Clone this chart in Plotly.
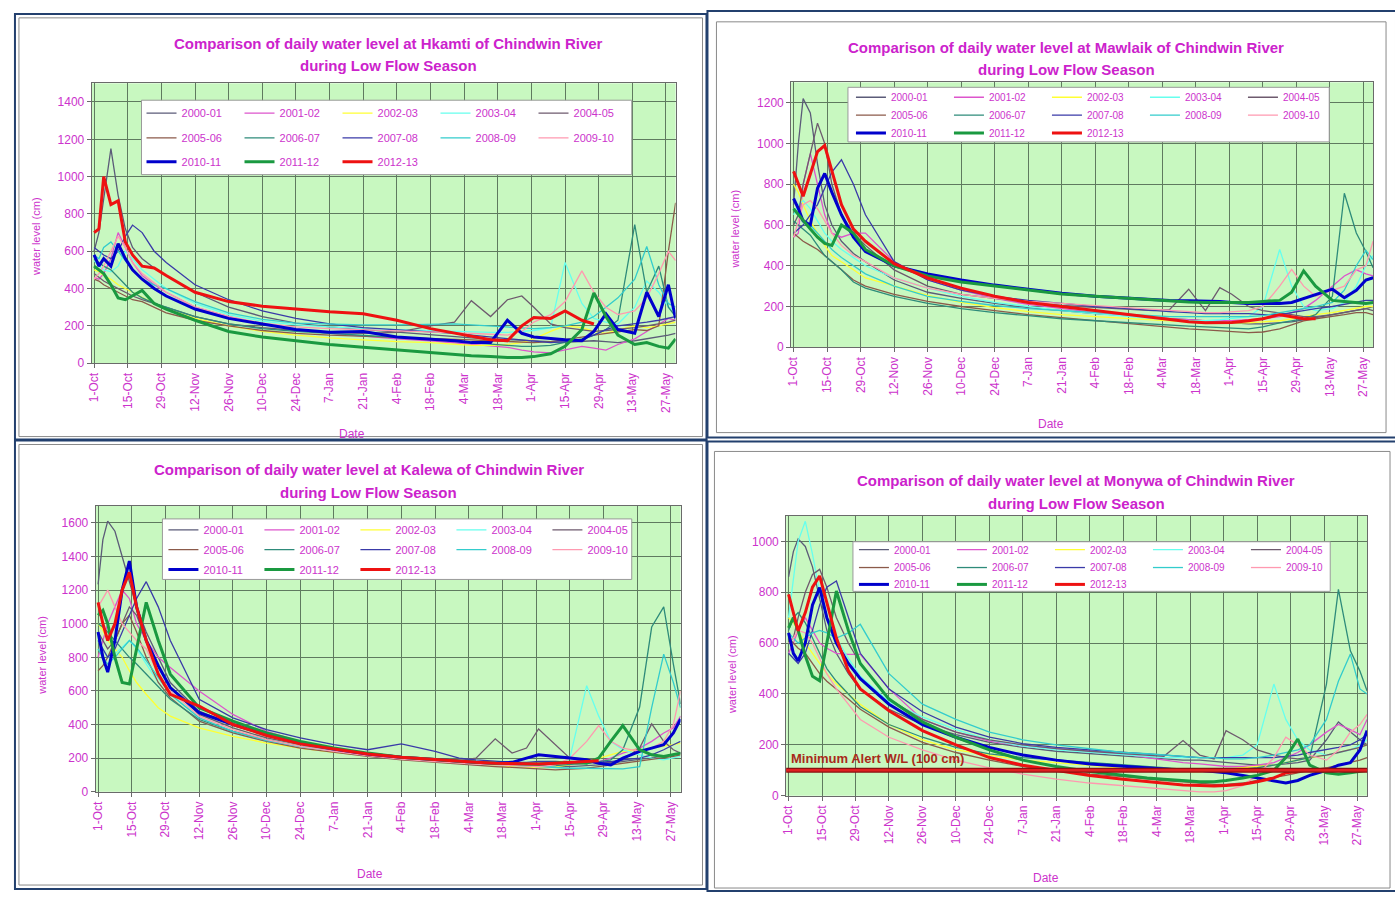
import plotly.graph_objects as go

W, H = 1395, 897
FONT = "Liberation Sans, Arial, sans-serif"
MAG = "#cc33cc"
TITLE_MAG = "#cc22cc"

# ---------------- data ----------------
# day index from 1-Oct (0) to 31-May (242)
DAYS = [0, 2, 4, 7, 10, 13, 16, 20, 25, 30, 42, 56, 70, 84, 98, 112, 126, 140, 150, 157,
        165, 172, 178, 183, 190, 196, 203, 208, 213, 218, 225, 230, 235, 239, 242]

TICK_DAYS = [0, 14, 28, 42, 56, 70, 84, 98, 112, 126, 140, 154, 168, 182, 196, 210, 224, 238]
TICK_LABELS = ["1-Oct", "15-Oct", "29-Oct", "12-Nov", "26-Nov", "10-Dec", "24-Dec", "7-Jan",
               "21-Jan", "4-Feb", "18-Feb", "4-Mar", "18-Mar", "1-Apr", "15-Apr", "29-Apr",
               "13-May", "27-May"]

SEASONS = ["2000-01", "2001-02", "2002-03", "2003-04", "2004-05",
           "2005-06", "2006-07", "2007-08", "2008-09", "2009-10",
           "2010-11", "2011-12", "2012-13"]

COLORS = ["#5b5b78", "#dd55cc", "#ffff33", "#66ffee", "#6e5a6e",
          "#8b5a4a", "#2e8b7a", "#3a3aa8", "#33cccc", "#ff99b0",
          "#0000cc", "#1a9940", "#ee1111"]
WIDTHS = [1.3, 1.3, 1.3, 1.3, 1.3, 1.3, 1.3, 1.3, 1.3, 1.3, 3, 3, 3]

N = None
HKAMTI = {
    "2000-01": [600, 700, 880, 1150, 900, 720, 620, 560, 510, 470, 380, 300, 250, 215, 195, 180, 165, 150, 140, 135, 130, 125, 120, 118, 115, 112, 115, 120, 115, 110, 120, 130, 140, 150, 160],
    "2001-02": [460, 450, 480, 560, 700, 620, 540, 470, 420, 380, 300, 250, 210, 180, 160, 145, 130, 120, 110, 100, 95, 85, 70, 60, 55, 70, 90, 80, 70, 100, 130, 170, 210, 240, 230],
    "2002-03": [500, 490, 470, 450, 420, 400, 380, 350, 320, 290, 240, 200, 170, 150, 135, 125, 115, 110, 100, 95, 95, 100, 110, 130, 170, 200, 190, 170, 160, 180, 200, 190, 200, 210, 220],
    "2003-04": [550, 520, 500, 490, 520, 600, 560, 500, 450, 400, 320, 260, 225, 205, 195, 185, 180, 175, 170, 165, 165, 165, 170, 175, 190, 540, 320, 240, 220, 210, 300, 440, 380, 300, 280],
    "2004-05": [480, 460, 440, 420, 400, 380, 360, 340, 320, 300, 250, 210, 190, 175, 165, 160, 165, 200, 220, 335, 250, 340, 360, 300, 210, 190, 180, 170, 175, 180, 190, 200, 210, 220, 230],
    "2005-06": [450, 440, 420, 400, 380, 360, 340, 330, 300, 270, 230, 200, 175, 160, 150, 145, 140, 135, 130, 125, 120, 115, 110, 110, 115, 125, 140, 150, 160, 170, 180, 175, 200, 600, 860],
    "2006-07": [560, 540, 520, 500, 460, 420, 380, 350, 320, 300, 250, 210, 185, 170, 160, 150, 140, 130, 120, 110, 100, 95, 90, 90, 95, 110, 130, 150, 180, 230, 742, 380, 520, 300, 250],
    "2007-08": [620, 600, 580, 560, 600, 680, 740, 700, 600, 540, 420, 340, 280, 240, 210, 190, 180, 170, 160, 150, 140, 130, 125, 120, 110, 115, 125, 150, 180, 200, 210, 220, 230, 240, 250],
    "2008-09": [580, 560, 620, 650, 600, 550, 500, 450, 420, 400, 330, 270, 235, 215, 210, 205, 205, 210, 210, 205, 200, 195, 190, 185, 190, 200, 220, 250, 300, 350, 450, 625, 420, 320, 300],
    "2009-10": [450, 480, 520, 600, 680, 620, 540, 480, 430, 380, 300, 250, 215, 195, 185, 180, 175, 170, 165, 160, 155, 150, 170, 220, 260, 330, 495, 380, 300, 260, 280, 350, 480, 600, 550],
    "2010-11": [580, 520, 560, 520, 640, 560, 500, 450, 400, 360, 290, 240, 210, 180, 165, 170, 140, 130, 120, 110, 110, 230, 160, 140, 130, 125, 120, 170, 265, 180, 160, 380, 250, 420, 240],
    "2011-12": [520, 500, 480, 420, 350, 340, 360, 390, 320, 290, 230, 170, 140, 120, 100, 85, 70, 55, 45, 40, 35, 30, 30, 35, 50, 90, 180, 376, 250, 150, 100, 110, 90, 80, 130],
    "2012-13": [700, 720, 1000, 850, 870, 650, 580, 520, 510, 470, 380, 330, 305, 290, 275, 265, 230, 185, 160, 145, 125, 120, 200, 245, 240, 280, 230, 210, N, N, N, N, N, N, N],
}

MAWLAIK = {
    "2000-01": [700, 1000, 1220, 1150, 900, 700, 600, 520, 460, 420, 330, 270, 240, 215, 195, 180, 165, 155, 145, 140, 135, 130, 125, 120, 115, 115, 120, 125, 135, 145, 160, 170, 180, 190, 200],
    "2001-02": [540, 560, 800, 950, 800, 650, 560, 540, 560, 560, 420, 330, 280, 240, 210, 190, 170, 155, 145, 140, 135, 130, 130, 130, 135, 140, 150, 170, 190, 230, 300, 350, 380, 360, 350],
    "2002-03": [800, 760, 700, 620, 560, 500, 450, 420, 380, 340, 300, 255, 220, 195, 175, 160, 150, 140, 135, 130, 125, 120, 120, 120, 120, 125, 130, 140, 150, 160, 170, 180, 190, 200, 200],
    "2003-04": [650, 700, 720, 680, 620, 560, 520, 480, 440, 400, 340, 290, 250, 220, 200, 180, 165, 150, 140, 135, 130, 130, 135, 140, 150, 200, 480, 300, 200, 180, 190, 220, 300, 400, 450],
    "2004-05": [600, 650, 800, 950, 1100, 1000, 800, 650, 560, 500, 380, 300, 260, 240, 220, 205, 195, 185, 180, 185, 285, 180, 293, 260, 200, 180, 170, 160, 150, 150, 160, 170, 180, 190, 180],
    "2005-06": [560, 540, 520, 500, 480, 450, 420, 380, 330, 300, 260, 225, 200, 180, 160, 145, 130, 115, 105, 95, 90, 85, 80, 75, 72, 75, 90, 110, 130, 140, 150, 160, 170, 170, 160],
    "2006-07": [620, 600, 580, 550, 500, 450, 420, 380, 320, 290, 250, 215, 190, 170, 155, 140, 130, 120, 112, 108, 104, 100, 96, 92, 90, 100, 120, 130, 140, 160, 250, 756, 561, 470, 390],
    "2007-08": [560, 580, 600, 650, 700, 780, 860, 920, 800, 650, 420, 330, 280, 250, 230, 215, 200, 190, 180, 175, 170, 165, 165, 165, 165, 160, 160, 170, 180, 190, 200, 210, 220, 230, 230],
    "2008-09": [680, 650, 620, 600, 560, 520, 480, 440, 400, 360, 300, 250, 225, 205, 190, 180, 170, 160, 155, 150, 150, 150, 150, 150, 150, 155, 170, 180, 190, 200, 220, 280, 400, 475, 430],
    "2009-10": [540, 620, 700, 720, 680, 620, 560, 500, 450, 420, 340, 290, 260, 240, 225, 215, 205, 195, 185, 180, 175, 170, 170, 175, 180, 200, 300, 382, 300, 250, 280, 300, 380, 400, 520],
    "2010-11": [730, 680, 620, 600, 780, 853, 760, 650, 540, 470, 400, 360, 330, 305, 285, 265, 250, 240, 235, 230, 228, 228, 225, 220, 215, 215, 215, 220, 240, 260, 285, 243, 280, 330, 341],
    "2011-12": [680, 650, 620, 580, 540, 510, 500, 600, 560, 480, 400, 350, 320, 300, 280, 262, 250, 240, 232, 228, 222, 220, 220, 220, 220, 225, 230, 270, 375, 300, 230, 225, 220, 215, 220],
    "2012-13": [863, 800, 741, 850, 960, 990, 870, 700, 580, 520, 410, 340, 290, 250, 220, 200, 180, 160, 145, 135, 125, 120, 120, 122, 130, 140, 160, 150, 140, 140, N, N, N, N, N],
}

KALEWA = {
    "2000-01": [1234, 1500, 1610, 1550, 1400, 1250, 1100, 950, 800, 650, 480, 400, 340, 290, 250, 225, 205, 190, 180, 175, 170, 165, 160, 155, 150, 150, 155, 160, 170, 180, 190, 200, 210, 220, 230],
    "2001-02": [800, 900, 1000, 1100, 1200, 1150, 1000, 900, 800, 740, 600, 460, 360, 300, 260, 230, 210, 185, 170, 160, 155, 150, 150, 150, 155, 160, 170, 180, 200, 230, 260, 300, 350, 380, 450],
    "2002-03": [1000, 960, 900, 850, 800, 720, 650, 580, 500, 450, 380, 330, 290, 260, 235, 215, 195, 180, 170, 160, 155, 150, 145, 145, 150, 160, 180, 200, 220, 240, 250, 260, 270, 280, 290],
    "2003-04": [900, 850, 800, 820, 860, 900, 850, 760, 650, 560, 420, 350, 300, 265, 240, 215, 195, 180, 170, 165, 160, 155, 150, 150, 155, 200, 631, 450, 300, 250, 220, 200, 190, 200, 210],
    "2004-05": [950, 900, 850, 900, 1000, 1100, 1050, 900, 750, 620, 460, 380, 320, 280, 250, 225, 205, 195, 185, 200, 315, 230, 260, 374, 280, 200, 180, 170, 175, 190, 260, 404, 300, 250, 230],
    "2005-06": [720, 750, 800, 900, 1000, 1050, 950, 800, 650, 560, 420, 350, 300, 260, 235, 210, 190, 175, 165, 155, 150, 145, 140, 135, 130, 135, 140, 150, 160, 170, 180, 190, 200, 210, 220],
    "2006-07": [1000, 980, 950, 900, 850, 800, 760, 700, 620, 550, 430, 360, 310, 270, 245, 220, 200, 185, 175, 170, 165, 160, 155, 155, 155, 160, 170, 180, 190, 250, 504, 980, 1100, 760, 522],
    "2007-08": [900, 850, 800, 850, 950, 1050, 1150, 1250, 1100, 900, 550, 440, 370, 320, 280, 250, 285, 240, 200, 190, 180, 175, 175, 180, 180, 175, 170, 175, 180, 190, 200, 220, 250, 280, 300],
    "2008-09": [850, 800, 760, 800, 850, 900, 860, 780, 680, 580, 440, 360, 305, 270, 245, 220, 200, 185, 175, 170, 165, 160, 155, 150, 145, 140, 140, 138, 136, 136, 150, 500, 819, 650, 500],
    "2009-10": [1100, 1150, 1200, 1100, 1000, 950, 900, 850, 700, 600, 450, 370, 310, 270, 240, 215, 195, 180, 170, 165, 160, 155, 150, 150, 160, 200, 300, 394, 300, 260, 240, 260, 300, 400, 600],
    "2010-11": [950, 800, 712, 900, 1200, 1373, 1100, 900, 750, 620, 470, 400, 340, 290, 255, 225, 205, 190, 180, 175, 170, 175, 200, 220, 210, 200, 190, 170, 160, 200, 240, 260, 280, 350, 433],
    "2011-12": [1050, 1080, 1000, 800, 650, 641, 850, 1127, 900, 700, 500, 420, 350, 300, 260, 230, 205, 190, 180, 175, 170, 165, 165, 165, 170, 175, 170, 200, 300, 394, 250, 220, 210, 220, 230],
    "2012-13": [1127, 1000, 900, 1000, 1200, 1305, 1100, 900, 700, 580, 510, 400, 335, 285, 255, 225, 205, 190, 180, 175, 170, 168, 165, 165, 170, 175, 180, 185, N, N, N, N, N, N, N],
}

MONYWA = {
    "2000-01": [860, 960, 1010, 980, 900, 780, 650, 560, 480, 420, 340, 280, 240, 210, 190, 175, 165, 155, 150, 145, 140, 140, 135, 130, 125, 120, 120, 125, 130, 140, 220, 290, 250, 220, 200],
    "2001-02": [560, 600, 650, 700, 650, 600, 580, 560, 556, 556, 420, 300, 250, 215, 195, 185, 175, 165, 150, 140, 130, 125, 120, 115, 115, 120, 130, 150, 170, 200, 250, 280, 260, 240, 300],
    "2002-03": [700, 680, 650, 600, 560, 520, 480, 440, 400, 360, 280, 220, 180, 160, 140, 130, 120, 110, 100, 95, 95, 95, 100, 105, 110, 115, 120, 130, 140, 150, 160, 170, 180, 190, 200],
    "2003-04": [700, 850, 1000, 1079, 950, 800, 700, 620, 540, 470, 370, 310, 260, 220, 195, 180, 170, 160, 155, 150, 150, 150, 150, 150, 160, 200, 439, 300, 220, 180, 160, 170, 180, 200, 220],
    "2004-05": [600, 620, 700, 800, 870, 890, 820, 700, 600, 520, 380, 300, 250, 220, 200, 185, 175, 165, 160, 155, 217, 160, 145, 256, 220, 180, 160, 150, 145, 150, 160, 170, 180, 190, 200],
    "2005-06": [620, 600, 580, 560, 520, 480, 450, 420, 380, 340, 270, 210, 170, 140, 115, 100, 85, 75, 65, 60, 55, 50, 45, 45, 50, 60, 70, 80, 90, 100, 110, 120, 130, 140, 150],
    "2006-07": [650, 700, 720, 680, 620, 560, 500, 450, 400, 350, 280, 230, 190, 165, 150, 140, 130, 120, 115, 110, 105, 100, 100, 100, 105, 110, 120, 130, 140, 150, 439, 811, 570, 490, 412],
    "2007-08": [560, 540, 520, 560, 650, 750, 820, 844, 700, 560, 420, 330, 270, 230, 205, 190, 180, 170, 165, 160, 155, 150, 150, 150, 150, 150, 150, 155, 160, 170, 180, 190, 200, 220, 240],
    "2008-09": [640, 620, 600, 620, 640, 650, 640, 620, 640, 674, 480, 360, 300, 250, 220, 200, 185, 170, 165, 160, 155, 150, 150, 145, 145, 150, 160, 170, 180, 200, 300, 450, 557, 420, 400],
    "2009-10": [600, 620, 650, 640, 600, 540, 480, 420, 360, 300, 230, 180, 140, 110, 85, 65, 50, 40, 30, 25, 20, 15, 15, 20, 40, 80, 150, 230, 200, 160, 140, 180, 250, 280, 320],
    "2010-11": [640, 560, 530, 600, 750, 818, 700, 600, 520, 460, 360, 280, 230, 190, 160, 140, 125, 115, 110, 105, 100, 100, 95, 90, 80, 70, 60, 50, 60, 80, 100, 120, 130, 180, 256],
    "2011-12": [660, 700, 650, 550, 470, 452, 600, 805, 650, 520, 380, 290, 230, 180, 140, 115, 95, 80, 70, 65, 60, 55, 55, 60, 70, 80, 100, 150, 223, 120, 90, 85, 90, 95, 100],
    "2012-13": [792, 720, 648, 720, 820, 864, 760, 620, 491, 420, 334, 256, 200, 150, 120, 100, 80, 65, 55, 48, 42, 40, 38, 40, 45, 55, 70, 90, 95, N, N, N, N, N, N],
}

ALERT_LEVEL = 100
X_RANGE = [-1, 242]


def px(x):
    return x / W


def py(y):
    return 1 - y / H


PANELS = [
    dict(station="Hkamti", data=HKAMTI, ymax=1500, plot=(87, 84, 673, 366),
         title=(385, 44, 66), ylab=(31, 238), date=(348, 437),
         box=(137, 101, 629, 176), rows=(114, 139, 163), lx=150, pitch=98, lfs=11),
    dict(station="Mawlaik", data=MAWLAIK, ymax=1300, plot=(789, 83, 1373, 350),
         title=(1065, 48, 70), ylab=(733, 231), date=(1050, 427),
         box=(846, 88, 1329, 143), rows=(98, 116, 134), lx=862, pitch=98, lfs=10),
    dict(station="Kalewa", data=KALEWA, ymax=1700, plot=(91, 510, 678, 798),
         title=(365, 473, 496), ylab=(37, 660), date=(366, 881),
         box=(158, 523, 629, 584), rows=(534, 554, 574), lx=172, pitch=96, lfs=11),
    dict(station="Monywa", data=MONYWA, ymax=1100, plot=(784, 520, 1367, 802),
         title=(1075, 484, 507), ylab=(729, 680), date=(1045, 885),
         box=(851, 546, 1330, 596), rows=(554, 572, 589), lx=865, pitch=98, lfs=10),
]

fig = go.Figure()
layout = dict(width=W, height=H, margin=dict(l=0, r=0, t=0, b=0),
              paper_bgcolor="white", plot_bgcolor="#c8f8c0", showlegend=True)
shapes = []
annotations = []

for i, p in enumerate(PANELS):
    sfx = "" if i == 0 else str(i + 1)
    xa, ya = "x" + sfx, "y" + sfx
    x0, y0, x1, y1 = p["plot"]
    layout["xaxis" + sfx] = dict(
        domain=[px(x0), px(x1)], anchor=ya, range=X_RANGE,
        tickmode="array", tickvals=TICK_DAYS, ticktext=TICK_LABELS, tickangle=-90,
        tickfont=dict(size=12, color=MAG, family=FONT),
        showgrid=True, gridcolor="#5f7a5f", gridwidth=1,
        showline=True, linecolor="#6a6a6a", linewidth=1, mirror=True,
        ticks="outside", ticklen=4, tickcolor="#6a6a6a", zeroline=False)
    layout["yaxis" + sfx] = dict(
        domain=[py(y1), py(y0)], anchor=xa, range=[0, p["ymax"]], dtick=200,
        tickfont=dict(size=12, color=MAG, family=FONT),
        showgrid=True, gridcolor="#5f7a5f", gridwidth=1,
        showline=True, linecolor="#6a6a6a", linewidth=1, mirror=True,
        ticks="outside", ticklen=4, tickcolor="#6a6a6a", zeroline=False)

    # series
    for s, season in enumerate(SEASONS):
        row = s // 5
        lid = 3 * i + row + 1
        lname = "legend" if lid == 1 else "legend%d" % lid
        fig.add_trace(go.Scatter(
            x=DAYS, y=p["data"][season], mode="lines", name=season,
            line=dict(color=COLORS[s], width=WIDTHS[s]),
            xaxis=xa, yaxis=ya, legend=lname, connectgaps=False))

    # legends (one per row)
    for r in range(3):
        lid = 3 * i + r + 1
        lname = "legend" if lid == 1 else "legend%d" % lid
        layout[lname] = dict(
            x=px(p["lx"] - 13), xanchor="left", y=py(p["rows"][r]), yanchor="middle",
            orientation="h", entrywidth=p["pitch"] - 45, entrywidthmode="pixels",
            bgcolor="rgba(0,0,0,0)", borderwidth=0, itemwidth=30, tracegroupgap=0,
            font=dict(size=p["lfs"], color=MAG, family=FONT), traceorder="normal")

    bx0, by0, bx1, by1 = p["box"]
    shapes.append(dict(type="rect", xref="paper", yref="paper", layer="above",
                       x0=px(bx0), x1=px(bx1), y0=py(by1), y1=py(by0),
                       fillcolor="white", line=dict(color="#9a9a9a", width=1)))

    tx, t1, t2 = p["title"]
    annotations.append(dict(xref="paper", yref="paper", x=px(tx), y=py(t1), showarrow=False,
                            text="<b>Comparison of daily water level at %s of Chindwin River</b>" % p["station"],
                            font=dict(size=15, color=TITLE_MAG, family=FONT), xanchor="center", yanchor="middle"))
    annotations.append(dict(xref="paper", yref="paper", x=px(tx), y=py(t2), showarrow=False,
                            text="<b>during Low Flow Season</b>",
                            font=dict(size=15, color=TITLE_MAG, family=FONT), xanchor="center", yanchor="middle"))
    yx, yy = p["ylab"]
    annotations.append(dict(xref="paper", yref="paper", x=px(yx), y=py(yy), showarrow=False,
                            text="water level (cm)", textangle=-90,
                            font=dict(size=11, color=MAG, family=FONT), xanchor="center", yanchor="middle"))
    dx, dy = p["date"]
    annotations.append(dict(xref="paper", yref="paper", x=px(dx), y=py(dy), showarrow=False,
                            text="Date", font=dict(size=12, color=MAG, family=FONT),
                            xanchor="center", yanchor="middle"))

# minimum alert level (Monywa)
shapes.append(dict(type="line", xref="x4 domain", yref="y4", x0=0, x1=1, y0=ALERT_LEVEL, y1=ALERT_LEVEL,
                   layer="above", line=dict(color="#8b1010", width=5)))
shapes.append(dict(type="line", xref="x4 domain", yref="y4", x0=0, x1=1, y0=ALERT_LEVEL, y1=ALERT_LEVEL,
                   layer="above", line=dict(color="#e02020", width=2.5)))
annotations.append(dict(xref="x4 domain", yref="y4", x=0.004, y=ALERT_LEVEL + 45, showarrow=False,
                        text="<b>Minimum Alert W/L (100 cm)</b>", xanchor="left", yanchor="middle",
                        font=dict(size=13, color="#a82a1a", family=FONT)))

# screenshot frames
NAVY = "#23406e"
frames = [(10, 14, 704, 443), (705, 11, 1396, 441), (10, 444, 704, 896), (705, 445, 1396, 898)]
inner = [(14, 18, 700, 440), (714, 22, 1386, 436), (14, 448, 700, 892), (712, 455, 1390, 895)]
for (a, b, c, d) in inner:
    shapes.append(dict(type="rect", xref="paper", yref="paper", layer="below",
                       x0=px(a), x1=px(c), y0=py(d), y1=py(b),
                       line=dict(color="#8a8a8a", width=1), fillcolor="rgba(0,0,0,0)"))
for (a, b, c, d) in frames:
    shapes.append(dict(type="rect", xref="paper", yref="paper", layer="above",
                       x0=px(a), x1=px(c), y0=py(d), y1=py(b),
                       line=dict(color=NAVY, width=2), fillcolor="rgba(0,0,0,0)"))

layout["shapes"] = shapes
layout["annotations"] = annotations
fig.update_layout(**layout)
fig.write_html("out.html", config={"displayModeBar": False},
               post_script="document.body.style.margin='0';document.body.style.overflow='hidden';")
